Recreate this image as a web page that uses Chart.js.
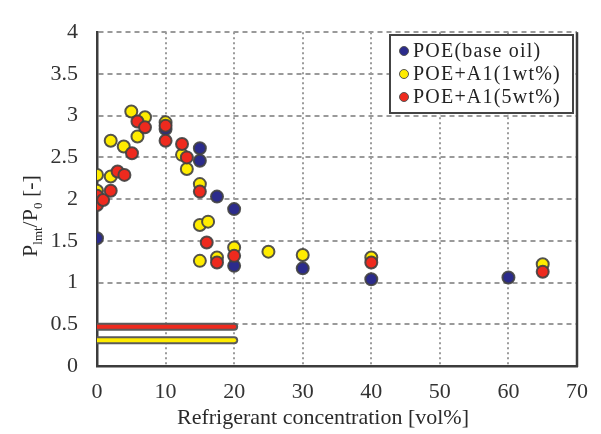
<!DOCTYPE html>
<html>
<head>
<meta charset="utf-8">
<script src="https://cdn.jsdelivr.net/npm/chart.js@4.4.1/dist/chart.umd.min.js"></script>
<style>
  html, body { margin: 0; padding: 0; background: #fff; }
  #wrap { width: 601px; height: 434px; position: relative; }
</style>
</head>
<body>
<div id="wrap"><canvas id="myChart"></canvas></div>
<script>
// series
var base_x = [0, 10, 15, 15, 17.5, 20, 20, 30, 40, 60];
var base_y = [1.53, 2.84, 2.61, 2.46, 2.03, 1.88, 1.20, 1.17, 1.04, 1.06];

var a1_x = [0, 0, 2, 2, 3.9, 5, 5.9, 7, 10, 12.4, 13.1, 15, 15, 16.2, 15, 17.5, 20, 25, 30, 40, 65];
var a1_y = [2.29, 2.10, 2.70, 2.27, 2.63, 3.05, 2.75, 2.98, 2.92, 2.53, 2.36, 2.18, 1.69, 1.73, 1.26, 1.30, 1.42, 1.37, 1.33, 1.30, 1.22];

var a5_x = [0, 0, 0.9, 2, 3, 4, 5.1, 5.9, 7, 10, 10, 12.4, 13.1, 15, 16, 17.5, 20, 40, 65];
var a5_y = [2.04, 1.93, 1.99, 2.10, 2.33, 2.29, 2.55, 2.93, 2.86, 2.88, 2.70, 2.66, 2.50, 2.09, 1.48, 1.24, 1.32, 1.24, 1.13];

// the two horizontal bars at the bottom (x range and level)
var bar_x = [0, 20];
var bar5_y = 0.47;
var bar1_y = 0.31;

var labels = ['POE(base oil)', 'POE+A1(1wt%)', 'POE+A1(5wt%)'];
var colors = ['#2b2b8c', '#ffec00', '#ee2a1e'];

var x_ticks = [0, 10, 20, 30, 40, 50, 60, 70];
var y_ticks = [0, 0.5, 1, 1.5, 2, 2.5, 3, 3.5, 4];

function pts(xs, ys) {
    var out = [];
    for (var i = 0; i < xs.length; i++) out.push({x: xs[i], y: ys[i]});
    return out;
}
function flat(xs, y) {
    return xs.map(function(v){ return {x: v, y: y}; });
}

var serif = '"Liberation Serif", "DejaVu Serif", serif';

function pointSet(label, data, color, order) {
    return {
        label: label,
        data: data,
        backgroundColor: color,
        borderColor: 'rgba(65,65,65,0.9)',
        borderWidth: 2,
        pointRadius: 6,
        order: order
    };
}
function barSet(data, color, width, order) {
    return {
        data: data,
        showLine: true,
        pointRadius: 0,
        borderColor: color,
        borderWidth: width,
        borderCapStyle: 'round',
        fill: false,
        order: order
    };
}

var dataset = {
    datasets: [
        pointSet(labels[0], pts(base_x, base_y), colors[0], 3),
        pointSet(labels[1], pts(a1_x, a1_y), colors[1], 2),
        pointSet(labels[2], pts(a5_x, a5_y), colors[2], 1),
        barSet(flat(bar_x, bar5_y), '#5a5a5a', 8, 6),
        barSet(flat(bar_x, bar5_y), colors[2], 4, 5),
        barSet(flat(bar_x, bar1_y), '#5a5a5a', 8, 6),
        barSet(flat(bar_x, bar1_y), colors[1], 4, 5)
    ]
};

// legend box, right border and axis titles
var extras = {
    id: 'extras',
    afterDraw: function(chart) {
        var ctx = chart.ctx;
        var a = chart.chartArea;
        ctx.save();
        // right frame line
        ctx.strokeStyle = '#3c3c3c';
        ctx.lineWidth = 2.5;
        ctx.beginPath();
        ctx.moveTo(a.right, a.top);
        ctx.lineTo(a.right, a.bottom + 1);
        ctx.stroke();

        // legend
        ctx.fillStyle = '#fff';
        ctx.fillRect(390, 35, 183, 78);
        ctx.strokeStyle = '#444';
        ctx.lineWidth = 2;
        ctx.strokeRect(390, 35, 183, 78);
        ctx.font = '20px ' + serif;
        ctx.letterSpacing = '1.2px';
        ctx.textBaseline = 'middle';
        ctx.textAlign = 'left';
        var rows = [51, 74, 97];
        for (var i = 0; i < 3; i++) {
            ctx.beginPath();
            ctx.arc(404, rows[i], 4.5, 0, Math.PI * 2);
            ctx.fillStyle = colors[i];
            ctx.fill();
            ctx.lineWidth = 1;
            ctx.strokeStyle = '#555';
            ctx.stroke();
            ctx.fillStyle = '#222';
            ctx.fillText(labels[i], 413, rows[i] + 1);
        }
        ctx.letterSpacing = '0px';

        // x title
        ctx.font = '22px ' + serif;
        ctx.fillStyle = '#2a2a2a';
        ctx.textAlign = 'center';
        ctx.fillText('Refrigerant concentration [vol%]', 323, 418);

        // y title with subscripts
        var parts = [
            {t: 'P', f: 22, dy: 0},
            {t: 'lmt', f: 13, dy: 5},
            {t: '/P', f: 22, dy: 0},
            {t: '0', f: 13, dy: 5},
            {t: ' [-]', f: 22, dy: 0}
        ];
        var total = 0;
        parts.forEach(function(p){ ctx.font = p.f + 'px ' + serif; p.w = ctx.measureText(p.t).width; total += p.w; });
        ctx.translate(30, 216);
        ctx.rotate(-Math.PI / 2);
        ctx.textAlign = 'left';
        ctx.textBaseline = 'alphabetic';
        var x = -total / 2;
        parts.forEach(function(p){
            ctx.font = p.f + 'px ' + serif;
            ctx.fillText(p.t, x, 7 + p.dy);
            x += p.w;
        });
        ctx.restore();
    }
};

var ctx = document.getElementById('myChart').getContext('2d');
var myChart = new Chart(ctx, {
    type: 'scatter',
    data: dataset,
    plugins: [extras],
    options: {
        responsive: true,
        maintainAspectRatio: false,
        animation: false,
        layout: { padding: { top: 25, right: 14, left: 0, bottom: 0 } },
        plugins: {
            legend: { display: false },
            tooltip: { enabled: false }
        },
        scales: {
            x: {
                type: 'linear',
                min: x_ticks[0],
                max: x_ticks[x_ticks.length - 1],
                afterBuildTicks: function(s){ s.ticks = x_ticks.map(function(v){ return {value: v}; }); },
                afterFit: function(s){ s.height = 68; },
                ticks: { padding: 13, color: '#333', font: { family: serif, size: 22 },
                         callback: function(v){ return String(v); } },
                grid: { color: '#9a9a9a', lineWidth: 2, drawTicks: false },
                border: { color: '#3c3c3c', width: 2.5, dash: [2, 3] }
            },
            y: {
                type: 'linear',
                min: y_ticks[0],
                max: y_ticks[y_ticks.length - 1],
                afterBuildTicks: function(s){ s.ticks = y_ticks.map(function(v){ return {value: v}; }); },
                afterFit: function(s){ s.width = 97; },
                ticks: { padding: 19, color: '#333', font: { family: serif, size: 22 },
                         callback: function(v){ return String(v); } },
                grid: { color: '#9a9a9a', lineWidth: 2, drawTicks: false },
                border: { color: '#3c3c3c', width: 2.5, dash: [5, 4] }
            }
        }
    }
});
</script>
</body>
</html>
